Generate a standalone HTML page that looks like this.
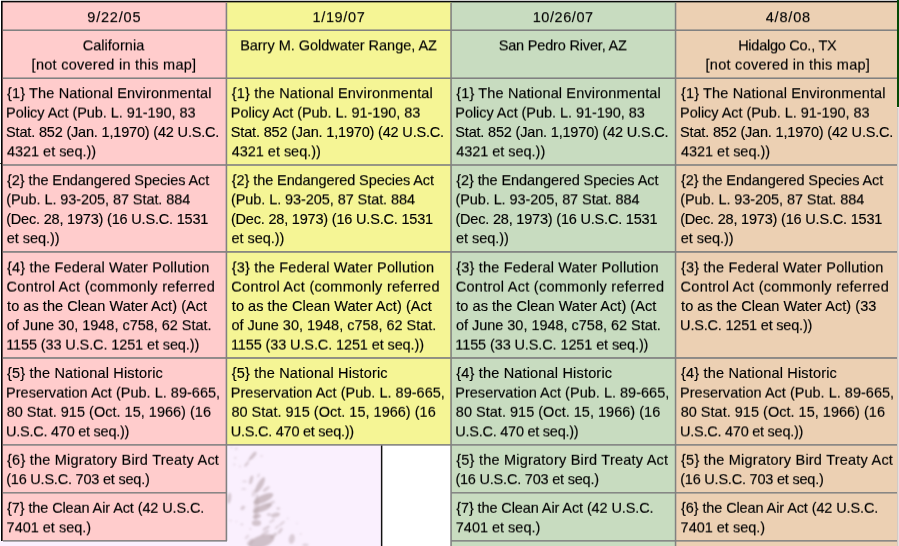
<!DOCTYPE html>
<html><head><meta charset="utf-8"><title>Waived laws by segment</title>
<style>
html,body{margin:0;padding:0;background:#fff;}
body{width:899px;height:546px;position:relative;overflow:hidden;font-family:"Liberation Sans",sans-serif;}
#w{position:absolute;left:0;top:0;width:899px;height:546px;overflow:hidden;background:#fff;}
.b{position:absolute;}
.t{position:absolute;white-space:nowrap;font-size:14.5px;line-height:18px;height:18px;color:#000;-webkit-text-stroke:0.15px #000;}
.tx{position:absolute;left:0;top:0;width:899px;height:546px;will-change:transform;}
.h{position:absolute;height:1px;background:#808080;}
.v{position:absolute;width:1px;background:#808080;}
</style></head><body><div id="w">

<div class="b" style="left:0;top:0;width:899px;height:1px;background:#cecece"></div>
<div class="b" style="left:0;top:0;width:1px;height:541px;background:#fff"></div>
<div class="b" style="left:2px;top:2px;width:225px;height:539px;background:#ffcccc"></div>
<div class="b" style="left:227px;top:2px;width:224px;height:443px;background:#f5f595"></div>
<div class="b" style="left:451px;top:2px;width:225px;height:544px;background:#c8dcc0"></div>
<div class="b" style="left:676px;top:2px;width:221px;height:544px;background:#ecd0b3"></div>
<div class="b" style="left:0;top:541px;width:227px;height:5px;background:#faf0fe"></div>
<div class="b" style="left:227px;top:445px;width:154px;height:101px;background:#faf0fe"></div>
<svg class="b" style="left:227px;top:445px" width="154" height="101" viewBox="0 0 154 101"><defs><filter id="bl" x="-20%" y="-20%" width="140%" height="140%"><feGaussianBlur stdDeviation="1.05"/></filter></defs><g filter="url(#bl)" fill="#b7a5ab"><ellipse cx="26.1" cy="10.6" rx="4.8" ry="1.9" opacity="0.60" transform="rotate(-50 26.1 10.6)"/><ellipse cx="19.6" cy="19.2" rx="3.2" ry="1.4" opacity="0.48" transform="rotate(-50 19.6 19.2)"/><ellipse cx="8.3" cy="13.0" rx="1.3" ry="1.1" opacity="0.36" transform="rotate(0 8.3 13.0)"/><ellipse cx="7.4" cy="19.6" rx="1.1" ry="1.0" opacity="0.32" transform="rotate(0 7.4 19.6)"/><ellipse cx="13.0" cy="21.4" rx="1.1" ry="0.9" opacity="0.32" transform="rotate(0 13.0 21.4)"/><ellipse cx="34.5" cy="11.1" rx="1.3" ry="1.0" opacity="0.32" transform="rotate(0 34.5 11.1)"/><ellipse cx="9.3" cy="3.7" rx="1.5" ry="1.2" opacity="0.36" transform="rotate(-40 9.3 3.7)"/><ellipse cx="4.5" cy="2.5" rx="1.2" ry="1.0" opacity="0.28" transform="rotate(0 4.5 2.5)"/><ellipse cx="24.2" cy="34.9" rx="4.6" ry="1.7" opacity="0.56" transform="rotate(-75 24.2 34.9)"/><ellipse cx="17.7" cy="36.4" rx="2.6" ry="0.9" opacity="0.36" transform="rotate(0 17.7 36.4)"/><ellipse cx="16.8" cy="43.9" rx="2.6" ry="0.9" opacity="0.36" transform="rotate(0 16.8 43.9)"/><ellipse cx="33.0" cy="40.1" rx="8.8" ry="2.7" opacity="0.64" transform="rotate(-60 33.0 40.1)"/><ellipse cx="39.2" cy="43.9" rx="4.2" ry="1.5" opacity="0.48" transform="rotate(-35 39.2 43.9)"/><ellipse cx="36.4" cy="53.6" rx="10.8" ry="3.7" opacity="0.68" transform="rotate(-25 36.4 53.6)"/><ellipse cx="35.4" cy="63.1" rx="10.2" ry="3.2" opacity="0.68" transform="rotate(-22 35.4 63.1)"/><ellipse cx="29.8" cy="71.5" rx="4.2" ry="2.2" opacity="0.60" transform="rotate(-15 29.8 71.5)"/><ellipse cx="29.5" cy="78.0" rx="4.6" ry="3.0" opacity="0.60" transform="rotate(0 29.5 78.0)"/><ellipse cx="48.5" cy="70.0" rx="4.6" ry="2.2" opacity="0.56" transform="rotate(-15 48.5 70.0)"/><ellipse cx="51.3" cy="63.5" rx="1.9" ry="1.6" opacity="0.40" transform="rotate(0 51.3 63.5)"/><ellipse cx="42.0" cy="69.5" rx="2.2" ry="1.6" opacity="0.44" transform="rotate(0 42.0 69.5)"/><ellipse cx="2.2" cy="53.2" rx="2.0" ry="5.6" opacity="0.52" transform="rotate(8 2.2 53.2)"/><ellipse cx="15.8" cy="62.9" rx="2.6" ry="1.9" opacity="0.48" transform="rotate(-40 15.8 62.9)"/><ellipse cx="3.7" cy="75.6" rx="1.1" ry="0.9" opacity="0.32" transform="rotate(0 3.7 75.6)"/><ellipse cx="14.9" cy="79.4" rx="1.4" ry="1.1" opacity="0.36" transform="rotate(0 14.9 79.4)"/><ellipse cx="23.3" cy="84.0" rx="1.1" ry="0.9" opacity="0.32" transform="rotate(0 23.3 84.0)"/><ellipse cx="9.3" cy="76.6" rx="0.9" ry="0.8" opacity="0.28" transform="rotate(0 9.3 76.6)"/><ellipse cx="39.2" cy="83.1" rx="4.2" ry="1.4" opacity="0.48" transform="rotate(-30 39.2 83.1)"/><ellipse cx="53.2" cy="85.9" rx="3.6" ry="1.5" opacity="0.48" transform="rotate(-55 53.2 85.9)"/><ellipse cx="46.7" cy="90.6" rx="4.2" ry="1.6" opacity="0.52" transform="rotate(-40 46.7 90.6)"/><ellipse cx="55.0" cy="78.4" rx="3.6" ry="1.2" opacity="0.40" transform="rotate(-40 55.0 78.4)"/><ellipse cx="34.5" cy="96.5" rx="13.5" ry="6.0" opacity="0.64" transform="rotate(-20 34.5 96.5)"/><ellipse cx="23.3" cy="97.0" rx="4.2" ry="2.0" opacity="0.48" transform="rotate(-45 23.3 97.0)"/><ellipse cx="29.5" cy="62.0" rx="2.6" ry="13.0" opacity="0.40" transform="rotate(4 29.5 62.0)"/><ellipse cx="27.0" cy="48.0" rx="2.0" ry="4.0" opacity="0.32" transform="rotate(20 27.0 48.0)"/><ellipse cx="43.5" cy="58.5" rx="5.0" ry="1.6" opacity="0.40" transform="rotate(-30 43.5 58.5)"/><ellipse cx="45.0" cy="76.0" rx="3.5" ry="1.3" opacity="0.36" transform="rotate(-35 45.0 76.0)"/><ellipse cx="50.0" cy="82.0" rx="3.0" ry="1.2" opacity="0.36" transform="rotate(-45 50.0 82.0)"/><ellipse cx="38.0" cy="88.0" rx="5.0" ry="1.6" opacity="0.40" transform="rotate(-35 38.0 88.0)"/><ellipse cx="20.0" cy="92.0" rx="3.0" ry="1.3" opacity="0.32" transform="rotate(-45 20.0 92.0)"/><ellipse cx="31.5" cy="30.5" rx="2.2" ry="1.2" opacity="0.36" transform="rotate(-60 31.5 30.5)"/><ellipse cx="22.5" cy="14.5" rx="2.6" ry="1.2" opacity="0.40" transform="rotate(-50 22.5 14.5)"/><ellipse cx="64.8" cy="94.0" rx="3.0" ry="5.0" opacity="0.48" transform="rotate(10 64.8 94.0)"/><ellipse cx="78.4" cy="100.0" rx="3.2" ry="1.6" opacity="0.40" transform="rotate(0 78.4 100.0)"/><ellipse cx="73.8" cy="89.0" rx="1.1" ry="0.9" opacity="0.28" transform="rotate(0 73.8 89.0)"/><ellipse cx="60.7" cy="73.4" rx="1.1" ry="0.9" opacity="0.28" transform="rotate(0 60.7 73.4)"/><ellipse cx="70.0" cy="78.4" rx="0.9" ry="0.8" opacity="0.24" transform="rotate(0 70.0 78.4)"/></g></svg>
<div class="b" style="left:380px;top:446px;width:1px;height:100px;background:rgba(20,10,20,.1)"></div>
<div class="b" style="left:381px;top:445px;width:1px;height:101px;background:#111"></div>
<div class="b" style="left:382px;top:445px;width:1px;height:101px;background:rgba(0,0,0,.35)"></div>
<div class="b" style="left:897px;top:0;width:2px;height:107px;background:#054a05"></div>
<div class="b" style="left:897px;top:107px;width:1px;height:439px;background:#d2cac5"></div><div class="b" style="left:898px;top:107px;width:1px;height:439px;background:#e6e0dc"></div><div class="b" style="left:897px;top:107px;width:2px;height:1px;background:#efe8e8"></div>
<div class="b" style="left:1px;top:1px;width:896px;height:1px;background:#0a0a0a"></div>
<div class="b" style="left:1px;top:2px;width:896px;height:1px;background:rgba(0,0,0,.35)"></div>
<div class="b" style="left:1px;top:1px;width:1px;height:540px;background:#050505"></div>
<div class="b" style="left:2px;top:1px;width:1px;height:540px;background:rgba(0,0,0,.6)"></div>
<div class="b" style="left:0;top:163px;width:1px;height:1px;background:#354535"></div>
<div class="h" style="left:3px;top:29px;width:894px;background:rgba(126,126,126,0.55)"></div><div class="h" style="left:3px;top:30px;width:894px;background:rgba(129,129,129,1.00)"></div>
<div class="h" style="left:3px;top:77px;width:894px;background:rgba(126,126,126,0.55)"></div><div class="h" style="left:3px;top:78px;width:894px;background:rgba(129,129,129,1.00)"></div>
<div class="h" style="left:3px;top:164px;width:894px;background:rgba(126,126,126,0.80)"></div><div class="h" style="left:3px;top:165px;width:894px;background:rgba(129,129,129,0.80)"></div>
<div class="h" style="left:3px;top:251px;width:894px;background:rgba(129,129,129,0.95)"></div><div class="h" style="left:3px;top:252px;width:894px;background:rgba(126,126,126,0.75)"></div>
<div class="h" style="left:3px;top:357px;width:894px;background:rgba(126,126,126,0.85)"></div><div class="h" style="left:3px;top:358px;width:894px;background:rgba(129,129,129,0.85)"></div>
<div class="h" style="left:3px;top:444px;width:894px;background:rgba(126,126,126,0.88)"></div><div class="h" style="left:3px;top:445px;width:894px;background:rgba(129,129,129,0.68)"></div>
<div class="h" style="left:3px;top:492px;width:224px;background:rgba(126,126,126,0.90)"></div><div class="h" style="left:3px;top:493px;width:224px;background:rgba(129,129,129,0.55)"></div>
<div class="h" style="left:451px;top:492px;width:446px;background:rgba(126,126,126,0.90)"></div><div class="h" style="left:451px;top:493px;width:446px;background:rgba(129,129,129,0.55)"></div>
<div class="h" style="left:3px;top:540px;width:224px;background:rgba(129,129,129,0.90)"></div><div class="h" style="left:3px;top:541px;width:224px;background:rgba(126,126,126,0.60)"></div>
<div class="h" style="left:451px;top:540px;width:446px;background:rgba(129,129,129,0.90)"></div><div class="h" style="left:451px;top:541px;width:446px;background:rgba(126,126,126,0.60)"></div>
<div class="v" style="left:225px;top:3px;height:538px;background:rgba(126,126,126,0.35)"></div><div class="v" style="left:226px;top:3px;height:538px;background:rgba(129,129,129,1.00)"></div><div class="v" style="left:227px;top:3px;height:538px;background:rgba(126,126,126,0.22)"></div>
<div class="v" style="left:450px;top:3px;height:543px;background:rgba(126,126,126,0.72)"></div><div class="v" style="left:451px;top:3px;height:543px;background:rgba(129,129,129,0.85)"></div>
<div class="v" style="left:674px;top:3px;height:543px;background:rgba(126,126,126,0.20)"></div><div class="v" style="left:675px;top:3px;height:543px;background:rgba(129,129,129,1.00)"></div><div class="v" style="left:676px;top:3px;height:543px;background:rgba(126,126,126,0.30)"></div>
<div class="tx" style="transform:translateY(0.0px) rotate(0.001deg)">
<div class="t" style="left:6.11px;top:123px;letter-spacing:-0.180px">Stat. 852 (Jan. 1,1970) (42 U.S.C.</div>
<div class="t" style="left:6.20px;top:210px;letter-spacing:-0.193px">(Dec. 28, 1973) (16 U.S.C. 1531</div>
<div class="t" style="left:7.06px;top:297px;letter-spacing:0.051px">to as the Clean Water Act) (Act</div>
<div class="t" style="left:7.05px;top:364px;letter-spacing:0.177px">{5} the National Historic</div>
<div class="t" style="left:230.86px;top:123px;letter-spacing:-0.180px">Stat. 852 (Jan. 1,1970) (42 U.S.C.</div>
<div class="t" style="left:230.95px;top:210px;letter-spacing:-0.193px">(Dec. 28, 1973) (16 U.S.C. 1531</div>
<div class="t" style="left:231.81px;top:297px;letter-spacing:0.051px">to as the Clean Water Act) (Act</div>
<div class="t" style="left:231.80px;top:364px;letter-spacing:0.177px">{5} the National Historic</div>
<div class="t" style="left:455.31px;top:123px;letter-spacing:-0.180px">Stat. 852 (Jan. 1,1970) (42 U.S.C.</div>
<div class="t" style="left:455.40px;top:210px;letter-spacing:-0.193px">(Dec. 28, 1973) (16 U.S.C. 1531</div>
<div class="t" style="left:456.26px;top:297px;letter-spacing:0.051px">to as the Clean Water Act) (Act</div>
<div class="t" style="left:456.25px;top:364px;letter-spacing:0.177px">{4} the National Historic</div>
<div class="t" style="left:680.11px;top:123px;letter-spacing:-0.180px">Stat. 852 (Jan. 1,1970) (42 U.S.C.</div>
<div class="t" style="left:680.20px;top:210px;letter-spacing:-0.193px">(Dec. 28, 1973) (16 U.S.C. 1531</div>
<div class="t" style="left:681.06px;top:297px;letter-spacing:0.056px">to as the Clean Water Act) (33</div>
<div class="t" style="left:681.05px;top:364px;letter-spacing:0.177px">{4} the National Historic</div>
</div>
<div class="tx" style="transform:translateY(0.2px) rotate(0.001deg)">
<div class="t" style="left:7.05px;top:84px;letter-spacing:0.139px">{1} The National Environmental</div>
<div class="t" style="left:7.05px;top:171px;letter-spacing:-0.089px">{2} the Endangered Species Act</div>
<div class="t" style="left:6.69px;top:229px;letter-spacing:-0.025px">et seq.))</div>
<div class="t" style="left:6.69px;top:316px;letter-spacing:-0.021px">of June 30, 1948, c758, 62 Stat.</div>
<div class="t" style="left:6.20px;top:470px;letter-spacing:-0.210px">(16 U.S.C. 703 et seq.)</div>
<div class="t" style="left:87.27px;top:8px;letter-spacing:0.802px">9/22/05</div>
<div class="t" style="left:231.80px;top:84px;letter-spacing:0.177px">{1} the National Environmental</div>
<div class="t" style="left:231.80px;top:171px;letter-spacing:-0.089px">{2} the Endangered Species Act</div>
<div class="t" style="left:231.44px;top:229px;letter-spacing:-0.025px">et seq.))</div>
<div class="t" style="left:231.44px;top:316px;letter-spacing:-0.021px">of June 30, 1948, c758, 62 Stat.</div>
<div class="t" style="left:312.54px;top:8px;letter-spacing:0.645px">1/19/07</div>
<div class="t" style="left:456.25px;top:84px;letter-spacing:0.139px">{1} The National Environmental</div>
<div class="t" style="left:456.25px;top:171px;letter-spacing:-0.089px">{2} the Endangered Species Act</div>
<div class="t" style="left:455.89px;top:229px;letter-spacing:-0.025px">et seq.))</div>
<div class="t" style="left:455.89px;top:316px;letter-spacing:-0.021px">of June 30, 1948, c758, 62 Stat.</div>
<div class="t" style="left:455.40px;top:470px;letter-spacing:-0.210px">(16 U.S.C. 703 et seq.)</div>
<div class="t" style="left:532.64px;top:8px;letter-spacing:0.582px">10/26/07</div>
<div class="t" style="left:681.05px;top:84px;letter-spacing:0.139px">{1} The National Environmental</div>
<div class="t" style="left:681.05px;top:171px;letter-spacing:-0.089px">{2} the Endangered Species Act</div>
<div class="t" style="left:680.69px;top:229px;letter-spacing:-0.025px">et seq.))</div>
<div class="t" style="left:680.12px;top:316px;letter-spacing:-0.196px">U.S.C. 1251 et seq.))</div>
<div class="t" style="left:680.20px;top:470px;letter-spacing:-0.210px">(16 U.S.C. 703 et seq.)</div>
<div class="t" style="left:765.72px;top:8px;letter-spacing:0.819px">4/8/08</div>
</div>
<div class="tx" style="transform:translateY(0.4px) rotate(0.001deg)">
<div class="t" style="left:6.97px;top:142px;letter-spacing:-0.031px">4321 et seq.))</div>
<div class="t" style="left:6.20px;top:190px;letter-spacing:-0.075px">(Pub. L. 93-205, 87 Stat. 884</div>
<div class="t" style="left:7.05px;top:258px;letter-spacing:0.178px">{4} the Federal Water Pollution</div>
<div class="t" style="left:6.12px;top:422px;letter-spacing:-0.254px">U.S.C. 470 et seq.))</div>
<div class="t" style="left:6.60px;top:518px;letter-spacing:-0.012px">7401 et seq.)</div>
<div class="t" style="left:82.64px;top:36px;letter-spacing:0.044px">California</div>
<div class="t" style="left:231.72px;top:142px;letter-spacing:-0.031px">4321 et seq.))</div>
<div class="t" style="left:230.95px;top:190px;letter-spacing:-0.075px">(Pub. L. 93-205, 87 Stat. 884</div>
<div class="t" style="left:231.80px;top:258px;letter-spacing:0.178px">{3} the Federal Water Pollution</div>
<div class="t" style="left:230.87px;top:422px;letter-spacing:-0.254px">U.S.C. 470 et seq.))</div>
<div class="t" style="left:240.13px;top:36px;letter-spacing:-0.023px">Barry M. Goldwater Range, AZ</div>
<div class="t" style="left:456.17px;top:142px;letter-spacing:-0.031px">4321 et seq.))</div>
<div class="t" style="left:455.40px;top:190px;letter-spacing:-0.075px">(Pub. L. 93-205, 87 Stat. 884</div>
<div class="t" style="left:456.25px;top:258px;letter-spacing:0.178px">{3} the Federal Water Pollution</div>
<div class="t" style="left:455.32px;top:422px;letter-spacing:-0.254px">U.S.C. 470 et seq.))</div>
<div class="t" style="left:455.80px;top:518px;letter-spacing:-0.012px">7401 et seq.)</div>
<div class="t" style="left:498.71px;top:36px;letter-spacing:-0.174px">San Pedro River, AZ</div>
<div class="t" style="left:680.97px;top:142px;letter-spacing:-0.031px">4321 et seq.))</div>
<div class="t" style="left:680.20px;top:190px;letter-spacing:-0.075px">(Pub. L. 93-205, 87 Stat. 884</div>
<div class="t" style="left:681.05px;top:258px;letter-spacing:0.178px">{3} the Federal Water Pollution</div>
<div class="t" style="left:680.12px;top:422px;letter-spacing:-0.254px">U.S.C. 470 et seq.))</div>
<div class="t" style="left:680.60px;top:518px;letter-spacing:-0.012px">7401 et seq.)</div>
<div class="t" style="left:738.13px;top:36px;letter-spacing:-0.251px">Hidalgo Co., TX</div>
</div>
<div class="tx" style="transform:translateY(0.6px) rotate(0.001deg)">
<div class="t" style="left:6.08px;top:103px;letter-spacing:-0.051px">Policy Act (Pub. L. 91-190, 83</div>
<div class="t" style="left:6.59px;top:277px;letter-spacing:0.259px">Control Act (commonly referred</div>
<div class="t" style="left:6.14px;top:335px;letter-spacing:-0.113px">1155 (33 U.S.C. 1251 et seq.))</div>
<div class="t" style="left:6.08px;top:383px;letter-spacing:0.014px">Preservation Act (Pub. L. 89-665,</div>
<div class="t" style="left:31.59px;top:55px;letter-spacing:0.272px">[not covered in this map]</div>
<div class="t" style="left:230.83px;top:103px;letter-spacing:-0.051px">Policy Act (Pub. L. 91-190, 83</div>
<div class="t" style="left:231.34px;top:277px;letter-spacing:0.259px">Control Act (commonly referred</div>
<div class="t" style="left:230.89px;top:335px;letter-spacing:-0.113px">1155 (33 U.S.C. 1251 et seq.))</div>
<div class="t" style="left:230.83px;top:383px;letter-spacing:0.014px">Preservation Act (Pub. L. 89-665,</div>
<div class="t" style="left:455.28px;top:103px;letter-spacing:-0.051px">Policy Act (Pub. L. 91-190, 83</div>
<div class="t" style="left:455.79px;top:277px;letter-spacing:0.259px">Control Act (commonly referred</div>
<div class="t" style="left:455.34px;top:335px;letter-spacing:-0.113px">1155 (33 U.S.C. 1251 et seq.))</div>
<div class="t" style="left:455.28px;top:383px;letter-spacing:0.014px">Preservation Act (Pub. L. 89-665,</div>
<div class="t" style="left:680.08px;top:103px;letter-spacing:-0.051px">Policy Act (Pub. L. 91-190, 83</div>
<div class="t" style="left:680.59px;top:277px;letter-spacing:0.259px">Control Act (commonly referred</div>
<div class="t" style="left:680.08px;top:383px;letter-spacing:0.014px">Preservation Act (Pub. L. 89-665,</div>
<div class="t" style="left:705.59px;top:55px;letter-spacing:0.264px">[not covered in this map]</div>
</div>
<div class="tx" style="transform:translateY(0.8px) rotate(0.001deg)">
<div class="t" style="left:6.67px;top:402px;letter-spacing:0.013px">80 Stat. 915 (Oct. 15, 1966) (16</div>
<div class="t" style="left:7.05px;top:450px;letter-spacing:0.223px">{6} the Migratory Bird Treaty Act</div>
<div class="t" style="left:7.05px;top:498px;letter-spacing:-0.108px">{7} the Clean Air Act (42 U.S.C.</div>
<div class="t" style="left:231.42px;top:402px;letter-spacing:0.013px">80 Stat. 915 (Oct. 15, 1966) (16</div>
<div class="t" style="left:455.87px;top:402px;letter-spacing:0.013px">80 Stat. 915 (Oct. 15, 1966) (16</div>
<div class="t" style="left:456.25px;top:450px;letter-spacing:0.223px">{5} the Migratory Bird Treaty Act</div>
<div class="t" style="left:456.25px;top:498px;letter-spacing:-0.108px">{7} the Clean Air Act (42 U.S.C.</div>
<div class="t" style="left:680.67px;top:402px;letter-spacing:0.013px">80 Stat. 915 (Oct. 15, 1966) (16</div>
<div class="t" style="left:681.05px;top:450px;letter-spacing:0.223px">{5} the Migratory Bird Treaty Act</div>
<div class="t" style="left:681.05px;top:498px;letter-spacing:-0.108px">{6} the Clean Air Act (42 U.S.C.</div>
</div>
<div>
</div></div></body></html>
